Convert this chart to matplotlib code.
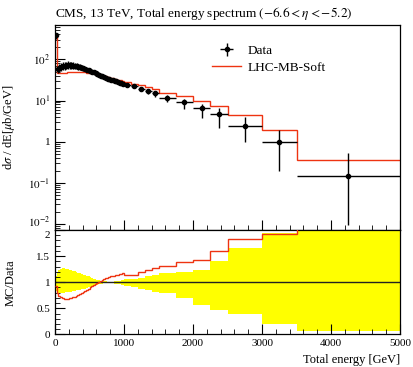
import numpy as np
import matplotlib
matplotlib.use('Agg')
import matplotlib.pyplot as plt
import matplotlib.transforms as mtransforms
from matplotlib.ticker import FixedLocator, MultipleLocator, LogLocator, FuncFormatter, NullFormatter

plt.rcParams['font.family'] = 'serif'
plt.rcParams['font.serif'] = ['Liberation Serif', 'DejaVu Serif']
plt.rcParams['mathtext.fontset'] = 'stix'

# bin edges [GeV]: 25 GeV up to 1 TeV, then 100, 250, 500 and one wide bin
edges = np.concatenate([np.arange(0, 1000, 25), np.arange(1000, 1500, 100),
                        [1500, 1750, 2000, 2250, 2500, 3000, 3500, 5000]]).astype(float)

# measured cross section dsigma/dE [mub/GeV]
data_val = [385, 58, 62, 65, 67, 69, 70, 71, 71, 71,
            70, 69, 68, 66, 64, 62, 60, 58, 56, 54,
            52, 50, 48, 46, 44, 42, 40, 38.5, 37, 35.5,
            34, 33, 32, 31, 30, 29, 28, 27.2, 26.5, 25.8,
            24, 22, 19.5, 17.2, 15.2,
            11.8, 9.1, 6.7, 4.7,
            2.4, 1.0, 0.15]

# relative uncertainties (up / down)
err_up = [0.12, 0.20, 0.24, 0.26, 0.27, 0.27, 0.26, 0.25, 0.24, 0.23,
          0.22, 0.21, 0.19, 0.18, 0.17, 0.15, 0.14, 0.13, 0.12, 0.11,
          0.10, 0.08, 0.07, 0.06, 0.05, 0.04, 0.03, 0.025, 0.02, 0.015,
          0.012, 0.01, 0.01, 0.012, 0.015, 0.02, 0.025, 0.03, 0.035, 0.04,
          0.06, 0.07, 0.09, 0.11, 0.14,
          0.17, 0.19, 0.24, 0.40,
          0.66, 0.95, 2.5]
err_dn = [0.17, 0.19, 0.20, 0.20, 0.20, 0.20, 0.19, 0.19, 0.18, 0.18,
          0.17, 0.16, 0.15, 0.15, 0.14, 0.13, 0.12, 0.12, 0.11, 0.10,
          0.09, 0.08, 0.07, 0.06, 0.05, 0.04, 0.03, 0.025, 0.02, 0.015,
          0.012, 0.012, 0.015, 0.02, 0.025, 0.03, 0.035, 0.04, 0.05, 0.06,
          0.07, 0.09, 0.12, 0.15, 0.18,
          0.20, 0.31, 0.435, 0.53,
          0.60, 0.80, 0.936]

# LHC-MB-Soft prediction over data
mc_ratio = [0.93, 0.80, 0.74, 0.71, 0.69, 0.68, 0.68, 0.68, 0.69, 0.70,
            0.71, 0.72, 0.74, 0.76, 0.78, 0.80, 0.81, 0.83, 0.85, 0.87,
            0.90, 0.93, 0.95, 0.97, 0.99, 1.01, 1.03, 1.05, 1.07, 1.08,
            1.09, 1.10, 1.11, 1.12, 1.12, 1.13, 1.14, 1.15, 1.16, 1.17,
            1.14, 1.145, 1.19, 1.23, 1.27,
            1.31, 1.38, 1.43, 1.59,
            1.82, 1.92, 2.4]

data_val = np.array(data_val)
err_up = np.array(err_up)
err_dn = np.array(err_dn)
mc_ratio = np.array(mc_ratio)
mc_val = mc_ratio*data_val

centers = 0.5*(edges[1:] + edges[:-1])
halfw = 0.5*(edges[1:] - edges[:-1])

fig = plt.figure(figsize = (4.14,3.67), dpi = 100)
ax = fig.add_axes([0.1329, 0.3733, 0.8333, 0.5586])
ax2 = fig.add_axes([0.1329, 0.0886, 0.8333, 0.2847], sharex = ax)

red = '#ee3311'

#### main panel ####
h_mc = ax.stairs(mc_val, edges, color = red, linewidth = 1, baseline = None, zorder = 2)
h_data = ax.errorbar(centers, data_val, xerr = halfw, yerr = [err_dn*data_val, err_up*data_val],
                     fmt = 'o', color = 'k', markersize = 3, elinewidth = 1, capsize = 0, zorder = 3)

ax.set_yscale('log')
ax.set_ylim([7.2e-3, 680])
ax.set_xlim([0, 5000])

def log_label(v, pos):
    e = int(round(np.log10(v)))
    if e == 0:
        return '1'
    return r'$10^{%d}$' % e
ax.yaxis.set_major_locator(FixedLocator([1e-2, 1e-1, 1, 10, 100]))
ax.yaxis.set_major_formatter(FuncFormatter(log_label))
ax.yaxis.set_minor_locator(LogLocator(base = 10, subs = np.arange(2, 10)))
ax.yaxis.set_minor_formatter(NullFormatter())
ax.set_ylabel(r'd$\sigma$ / dE[$\mu$b/GeV]', fontsize = 9)
ax.set_title(r'CMS, 13 TeV, Total energy spectrum $(-6.6 < \eta < -5.2)$', fontsize = 9.5, loc = 'left', pad = 6)
plt.setp(ax.get_xticklabels(), visible = False)

leg = ax.legend([h_data, h_mc], ['Data', 'LHC-MB-Soft'], loc = 'upper left', bbox_to_anchor = (0.44, 0.93),
                frameon = False, fontsize = 9.5, handlelength = 2.2, handletextpad = 0.5,
                borderaxespad = 0, labelspacing = 0.35)

#### ratio panel ####
band_lo = 1 - err_dn
band_hi = 1 + err_up
ax2.bar(edges[:-1], band_hi - band_lo, width = 2*halfw, bottom = band_lo, align = 'edge',
        color = '#ffff00', edgecolor = 'none', zorder = 1)
ax2.axhline(1, color = '#222222', linewidth = 1, zorder = 2)
ax2.stairs(mc_ratio, edges, color = red, linewidth = 1, baseline = None, zorder = 3)

ax2.set_ylim([0, 2])
ax2.yaxis.set_major_locator(FixedLocator([0, 0.5, 1, 1.5, 2]))
ax2.yaxis.set_major_formatter(FuncFormatter(lambda v, p: '%g' % v))
ax2.yaxis.set_minor_locator(MultipleLocator(0.1))
ax2.xaxis.set_major_locator(MultipleLocator(1000))
ax2.xaxis.set_minor_locator(MultipleLocator(200))
ax2.set_ylabel('MC/Data', fontsize = 9)
ax2.set_xlabel('Total energy [GeV]', fontsize = 9, loc = 'right')

for a in [ax, ax2]:
    a.tick_params(which = 'both', direction = 'in', top = False, right = False, labelsize = 8)
    a.tick_params(which = 'major', length = 7, width = 0.8)
    a.tick_params(which = 'minor', length = 3.5, width = 0.6)
    for sp in a.spines.values():
        sp.set_linewidth(0.9)

ax.yaxis.set_label_coords(-0.11, 0.5)
ax2.yaxis.set_label_coords(-0.11, 0.5)

# keep the 10^-2 and 2 labels where the panels meet apart
fig.canvas.draw()
ax.get_yticklabels()[0].set_transform(ax.get_yticklabels()[0].get_transform() +
                                      mtransforms.ScaledTranslation(0, 2/72, fig.dpi_scale_trans))
ax2.get_yticklabels()[-1].set_transform(ax2.get_yticklabels()[-1].get_transform() +
                                        mtransforms.ScaledTranslation(0, -3/72, fig.dpi_scale_trans))

fig.savefig('out.png', dpi = 100)
